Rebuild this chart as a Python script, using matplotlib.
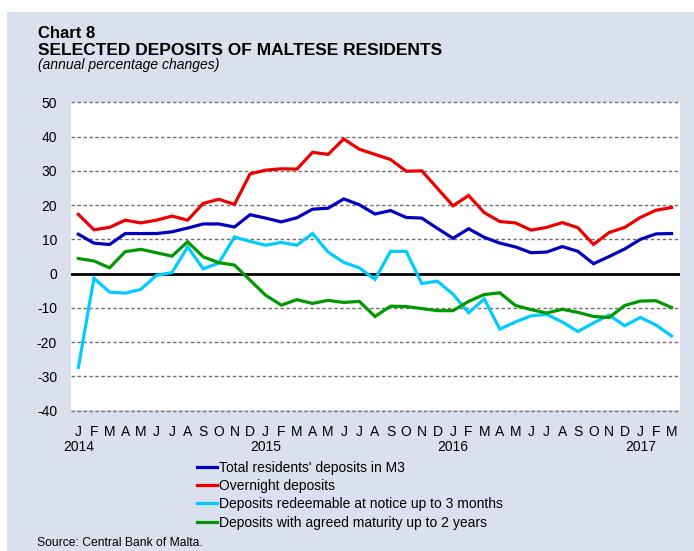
import matplotlib
matplotlib.use("Agg")
import matplotlib.pyplot as plt
from matplotlib.patches import Rectangle
import matplotlib.transforms as mtransforms

plt.rcParams['font.family'] = ['Liberation Sans', 'DejaVu Sans']

# monthly data, Jan 2014 - Mar 2017
months = list("JFMAMJJASOND") * 3 + list("JFM")
years = ["2014", "2015", "2016", "2017"]
year_pos = [0, 12, 24, 36]

total_m3 = [11.5, 8.9, 8.5, 11.7, 11.7, 11.7, 12.2, 13.3, 14.5, 14.5,
            13.6, 17.2, 16.2, 15.1, 16.3, 18.8, 19.1, 21.8, 20.1, 17.4,
            18.4, 16.4, 16.2, 13.2, 10.3, 13.1, 10.6, 8.9, 7.8, 6.1,
            6.3, 7.9, 6.5, 2.9, 5.0, 7.2, 10.0, 11.6, 11.7]
overnight = [17.3, 12.8, 13.5, 15.6, 14.8, 15.6, 16.8, 15.6, 20.5, 21.7,
             20.2, 29.1, 30.2, 30.6, 30.5, 35.4, 34.8, 39.3, 36.3, 34.8,
             33.3, 29.9, 30.0, 24.9, 19.8, 22.8, 17.8, 15.2, 14.8, 12.7,
             13.5, 14.9, 13.4, 8.5, 12.0, 13.5, 16.4, 18.5, 19.3]
notice = [-27.4, -1.3, -5.4, -5.7, -4.6, -0.5, 0.3, 7.8, 1.4, 3.1,
          10.7, 9.4, 8.3, 9.1, 8.3, 11.7, 6.3, 3.3, 1.7, -1.7,
          6.5, 6.5, -2.9, -2.2, -6.0, -11.4, -7.4, -16.2, -14.1, -12.3,
          -11.9, -14.1, -16.9, -14.4, -12.1, -15.2, -12.8, -15.0, -18.2]
maturity = [4.4, 3.7, 1.7, 6.4, 7.1, 6.1, 5.1, 9.3, 4.9, 3.2,
            2.5, -1.9, -6.3, -9.2, -7.6, -8.7, -7.8, -8.4, -8.1, -12.5,
            -9.5, -9.6, -10.2, -10.8, -10.8, -8.1, -6.1, -5.6, -9.3, -10.5,
            -11.5, -10.4, -11.3, -12.5, -12.8, -9.3, -8.0, -7.9, -9.9]

labels = ["Total residents' deposits in M3", "Overnight deposits",
          "Deposits redeemable at notice up to 3 months",
          "Deposits with agreed maturity up to 2 years"]
colors = ["#0000C0", "#EE0000", "#00CCFF", "#009900"]
yticks = list(range(-40, 51, 10))

W, H = 694, 551
fig = plt.figure(figsize=(W / 100, H / 100), dpi=100)
fig.patch.set_facecolor("white")
bg = "#DAE0EE"
fig.patches.append(Rectangle((7 / W, 0), 1, (H - 12) / H, transform=fig.transFigure,
                             facecolor=bg, edgecolor="none", zorder=-10))

# axes box: 50 at y=102.3px, -40 at y=410.7px
ax = fig.add_axes([71 / W, (H - 410.7) / H, (680 - 71) / W, 308.4 / H])
ax.set_facecolor("none")
x = list(range(len(months)))
ax.set_xlim(-0.47, 38.54)
ax.set_ylim(-40, 50)
for s in ax.spines.values():
    s.set_visible(False)

# white plotting area (stops just above the -40 line)
ax.add_patch(Rectangle((-0.47, -39.7), 39.01, 89.7, facecolor="white",
                       edgecolor="none", zorder=0))

for v in yticks:
    if v == 0:
        ax.axhline(0, color="black", lw=2, zorder=1)
    else:
        ax.axhline(v, color="#707070", lw=1, ls=(0, (2.5, 1.8)), zorder=1, clip_on=False)

series = [total_m3, overnight, notice, maturity]
for vals, c, lab in zip(series, colors, labels):
    ax.plot(x, vals, color=c, lw=2.3, label=lab, zorder=3, solid_joinstyle="miter")

ax.set_yticks(yticks)
ax.set_yticklabels([str(v) for v in yticks], fontsize=10)
ax.set_xticks(x)
ax.set_xticklabels(months, fontsize=10)
ax.tick_params(axis="y", length=0, pad=10)
ax.tick_params(axis="x", length=0, pad=10)

trans = mtransforms.blended_transform_factory(ax.transData, ax.transAxes)
for yr, p in zip(years, year_pos):
    ax.text(p, -0.1185, yr, transform=trans, ha="center", va="center", fontsize=10)

fig.text(38 / W, 1 - 38 / H, "Chart 8", fontsize=12, weight="bold", va="baseline")
fig.text(38 / W, 1 - 55 / H, "SELECTED DEPOSITS OF MALTESE RESIDENTS", fontsize=12.5,
         weight="bold", va="baseline")
fig.text(38 / W, 1 - 69 / H, "(annual percentage changes)", fontsize=10, style="italic",
         va="baseline")
fig.text(37 / W, 1 - 543 / H, "Source: Central Bank of Malta.", fontsize=8.7, va="center")

fig.legend(loc="upper left", bbox_to_anchor=(197 / W, 1 - 461 / H), frameon=False,
           fontsize=10, handlelength=1.45, handletextpad=0.1, labelspacing=0.3,
           borderpad=0, borderaxespad=0)

fig.savefig("out.png", dpi=100, facecolor=fig.get_facecolor())
